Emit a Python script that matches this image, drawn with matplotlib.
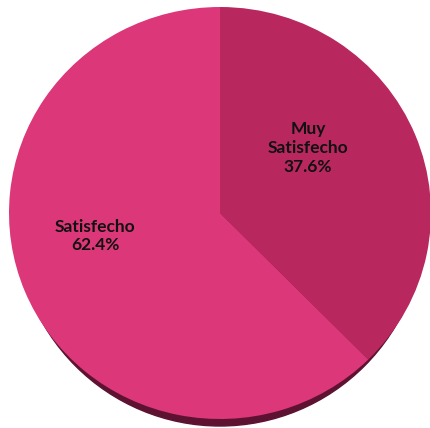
import matplotlib
matplotlib.use('Agg')
import matplotlib.pyplot as plt
from matplotlib.patches import Ellipse

labels = ['Muy\nSatisfecho', 'Satisfecho']
values = [37.6, 62.4]
colors = ['#B8285F', '#DC3778']
RIM = '#5E1232'

fig = plt.figure(figsize=(4.30, 4.28), dpi=100)
ax = fig.add_axes([0, 0, 1, 1])
ax.set_axis_off()

# darker rim underneath (pseudo 3D edge)
ax.add_patch(Ellipse((0, -0.034), 1.94, 2, color=RIM, zorder=0))

wedges, _ = ax.pie(values, colors=colors, startangle=90, counterclock=False,
                   radius=1, wedgeprops=dict(linewidth=0))
for w in wedges:
    w.set_zorder(1)

label_pos = [(0.417, 0.316), (-0.592, -0.112)]
for lab, v, (x, y) in zip(labels, values, label_pos):
    ax.text(x, y, f'{lab}\n{v:.1f}%', ha='center', va='center', fontsize=12.5,
            fontweight='bold', family=['Lato', 'DejaVu Sans'], color='#111111',
            linespacing=1.2, zorder=3)

cx, cy, rx, ry = 220, 213, 211, 206
ax.set_aspect('auto')
ax.set_xlim(-cx / rx, (430 - cx) / rx)
ax.set_ylim(-(428 - cy) / ry, cy / ry)

fig.savefig('out.png', dpi=100, facecolor='white')
